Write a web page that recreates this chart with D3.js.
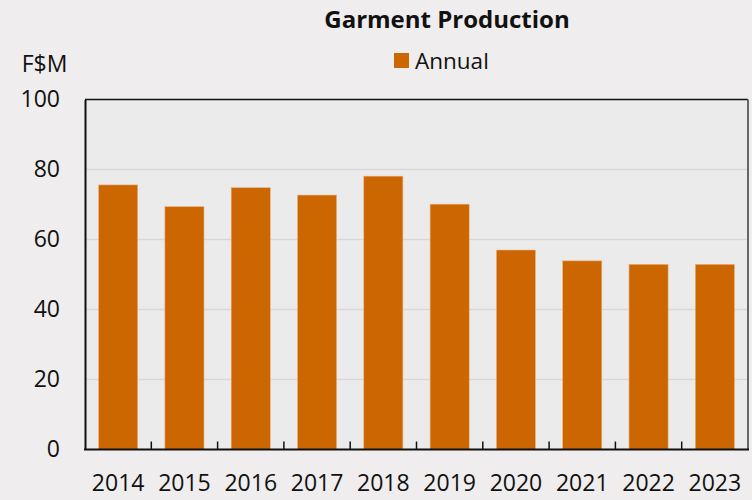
<!DOCTYPE html>
<html><head><meta charset="utf-8">
<script src="https://cdn.jsdelivr.net/npm/d3@7"></script>
<style>html,body{margin:0;padding:0;background:#efeded;}svg{display:block;}</style>
</head><body>
<script>
const years = ["2014","2015","2016","2017","2018","2019","2020","2021","2022","2023"];
const annual = [75.6, 69.4, 74.8, 72.7, 78.1, 70.1, 57.0, 53.9, 52.9, 52.9];
const yTicks = [0, 20, 40, 60, 80, 100];
const title = "Garment Production";
const unitLabel = "F$M";
const seriesName = "Annual";

const W = 752, H = 500;
const m = {left: 85, right: 4, top: 99.5, bottom: 50.5};
const font = "'Open Sans', sans-serif";
const svg = d3.select("body").append("svg").attr("width", W).attr("height", H);
svg.append("rect").attr("width", W).attr("height", H).attr("fill", "#efeded");

const x = d3.scaleBand().domain(years).range([m.left, W - m.right]).paddingInner(0.41).paddingOuter(0.205);
const y = d3.scaleLinear().domain([0, 100]).range([H - m.bottom, m.top]);

svg.append("rect").attr("x", m.left).attr("y", m.top).attr("width", W - m.right - m.left).attr("height", H - m.bottom - m.top).attr("fill", "#ecebeb");

// gridlines
svg.append("g").selectAll("line").data(yTicks.filter(d => d > 0 && d < 100)).join("line")
  .attr("x1", m.left).attr("x2", W - m.right).attr("y1", d => y(d)).attr("y2", d => y(d))
  .attr("stroke", "#d9d7d7").attr("stroke-width", 1.5);

// bars
svg.append("g").selectAll("rect").data(annual).join("rect")
  .attr("x", (d, i) => x(years[i])).attr("width", x.bandwidth())
  .attr("y", d => y(d)).attr("height", d => y(0) - y(d))
  .attr("fill", "#cc6600").attr("stroke", "#e8b48a").attr("stroke-width", 0.6);

// frame
svg.append("line").attr("x1", m.left).attr("x2", W - m.right).attr("y1", m.top).attr("y2", m.top).attr("stroke", "#111").attr("stroke-width", 1.5);
svg.append("line").attr("x1", W - m.right).attr("x2", W - m.right).attr("y1", m.top).attr("y2", y(0)).attr("stroke", "#666").attr("stroke-width", 2);

// y axis
const yAxis = d3.axisLeft(y).tickValues(yTicks).tickSize(0).tickPadding(25);
const gy = svg.append("g").attr("transform", `translate(${m.left},0)`).call(yAxis);
gy.select(".domain").attr("stroke", "#111").attr("stroke-width", 2);
gy.selectAll("text").attr("font-family", font).attr("font-size", 23).attr("fill", "#111");

// x axis with inward ticks at category boundaries
const gx = svg.append("g").attr("transform", `translate(0,${y(0)})`);
gx.append("line").attr("x1", m.left - 1).attr("x2", W - m.right + 1).attr("stroke", "#111").attr("stroke-width", 2);
const step = x.step();
gx.selectAll("line.tk").data(years.slice(1)).join("line").attr("class", "tk")
  .attr("x1", d => x(d) - step * x.paddingInner() / 2).attr("x2", d => x(d) - step * x.paddingInner() / 2)
  .attr("y1", 0).attr("y2", -8).attr("stroke", "#111").attr("stroke-width", 1.5);
gx.selectAll("text").data(years).join("text")
  .attr("x", d => x(d) + x.bandwidth() / 2).attr("y", 41)
  .attr("text-anchor", "middle").attr("font-family", font).attr("font-size", 23).attr("fill", "#111").text(d => d);

// title
svg.append("text").attr("x", 447).attr("y", 27.5).attr("text-anchor", "middle")
  .attr("font-family", font).attr("font-weight", "bold").attr("font-size", 24).attr("fill", "#111").text(title);
// unit
svg.append("text").attr("x", 44.5).attr("y", 72).attr("text-anchor", "middle")
  .attr("font-family", font).attr("font-size", 23).attr("fill", "#111").text(unitLabel);
// legend
svg.append("rect").attr("x", 394).attr("y", 53).attr("width", 15).attr("height", 15).attr("fill", "#cc6600");
svg.append("text").attr("x", 415).attr("y", 68.5).attr("font-family", font).attr("font-size", 22.5).attr("fill", "#111").text(seriesName);
</script>
</body></html>
